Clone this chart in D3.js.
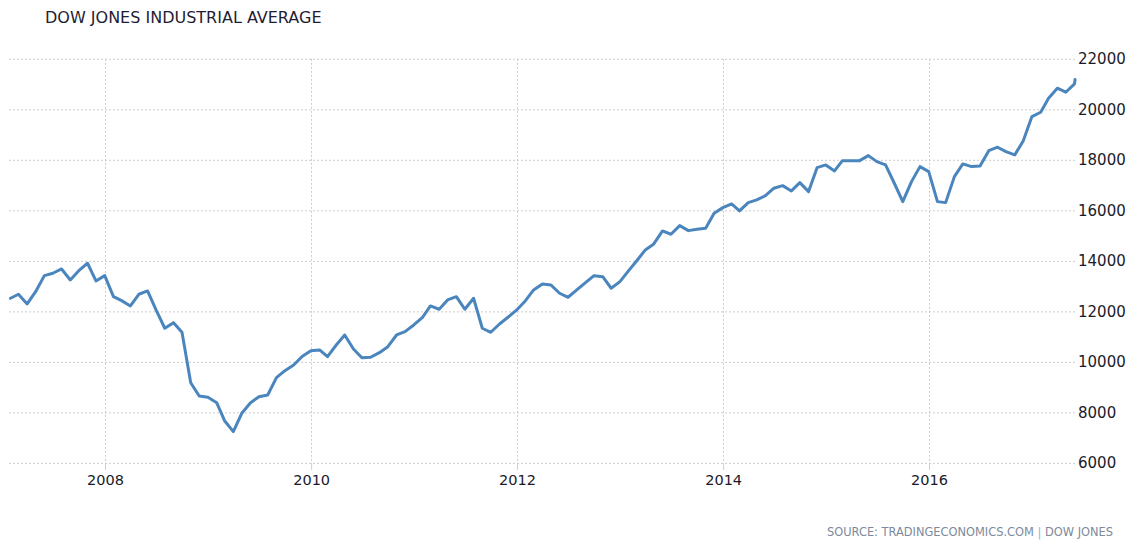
<!DOCTYPE html>
<html>
<head>
<meta charset="utf-8">
<script src="https://cdn.jsdelivr.net/npm/d3@7"></script>
<style>
    body { margin: 0; background: #fff; }
    svg { display: block; }
</style>
</head>
<body>
<div id="chart"></div>
<script>
// monthly closes, Jan 2007 .. May 2017, then one extra daily point in June 2017
const firstMonth = "2007-01"
const lastPointDate = "2017-06-02"
const closes = [
    12519, 12677, 12293, 12780, 13414, 13509, 13679, 13244, 13612, 13905, 13204, 13414,
    12582, 12424, 12214, 12677, 12808, 12055, 11331, 11552, 11172, 9176, 8650, 8598,
    8384, 7671, 7236, 7964, 8384, 8622, 8689, 9374, 9651, 9877, 10214, 10444,
    10471, 10206, 10669, 11065, 10511, 10166, 10182, 10364, 10602, 11065, 11196, 11461,
    11766, 12214, 12083, 12451, 12582, 12083, 12519, 11331, 11172, 11501, 11766, 12055,
    12424, 12848, 13085, 13046, 12717, 12558, 12848, 13137, 13414, 13374, 12915, 13176,
    13612, 13996, 14432, 14669, 15184, 15053, 15394, 15196, 15251, 15291, 15885, 16107,
    16253, 15976, 16305, 16412, 16582, 16875, 16978, 16768, 17097, 16741, 17691, 17798,
    17560, 17968, 17968, 17968, 18166, 17929, 17798, 17073, 16345, 17137, 17731, 17533,
    16345, 16305, 17335, 17838, 17731, 17758, 18364, 18499, 18325, 18194, 18749, 19711,
    19885, 20440, 20836, 20677, 21006
]
const lastPointValue = 21184
const yTicks = [6000, 8000, 10000, 12000, 14000, 16000, 18000, 20000, 22000]
const xTickYears = [2008, 2010, 2012, 2014, 2016]
const title = "DOW JONES INDUSTRIAL AVERAGE"
const source = "SOURCE: TRADINGECONOMICS.COM"
const sourceName = "DOW JONES"

const W = 1134, H = 543
const plot = {left: 8, right: 1075, top: 58.8, bottom: 462.9}

// build the points, each monthly value sits at the end of its month
let parseMonth = d3.timeParse("%Y-%m")
let start = parseMonth(firstMonth)
let data = closes.map((v, i) => {
    let d = d3.timeDay.offset(d3.timeMonth.offset(start, i + 1), -1)
    return {date: d, value: v}
})
data.push({date: d3.timeParse("%Y-%m-%d")(lastPointDate), value: lastPointValue})

let svg = d3.select("#chart")
    .append("svg")
    .attr("width", W)
    .attr("height", H)

svg.append("rect").attr("width", W).attr("height", H).attr("fill", "#fff")

// x scale pinned on the year gridlines
let x = d3.scaleTime()
    .domain([new Date(2008, 0, 1), new Date(2016, 0, 1)])
    .range([105, 929])

let y = d3.scaleLinear()
    .domain([6000, 22000])
    .range([plot.bottom, plot.top])

// horizontal grid + right labels
let yAxis = svg.append("g")
    .attr("transform", "translate(" + plot.right + ",0)")
    .call(d3.axisRight(y)
        .tickValues(yTicks)
        .tickSize(-(plot.right - plot.left))
        .tickPadding(3)
        .tickFormat(d3.format("d")))
yAxis.select(".domain").remove()
yAxis.selectAll("line")
    .attr("stroke", "#cccccc")
    .attr("stroke-dasharray", "2,2")
yAxis.selectAll("text")
    .attr("fill", "#1a1a2a")
    .style("font-family", "'DejaVu Sans', sans-serif")
    .style("font-size", "15px")

// vertical grid
svg.append("g")
    .selectAll("line")
    .data(xTickYears)
    .enter()
    .append("line")
    .attr("x1", d => Math.round(x(new Date(d, 0, 1))) + 0.5)
    .attr("x2", d => Math.round(x(new Date(d, 0, 1))) + 0.5)
    .attr("y1", plot.top)
    .attr("y2", plot.bottom)
    .attr("stroke", "#cccccc")
    .attr("stroke-dasharray", "2,2")

// x axis, only little ticks + labels
let xAxis = svg.append("g")
    .attr("transform", "translate(0," + plot.bottom + ")")
    .call(d3.axisBottom(x)
        .tickValues(xTickYears.map(d => new Date(d, 0, 1)))
        .tickSize(7)
        .tickPadding(5)
        .tickFormat(d3.timeFormat("%Y")))
xAxis.select(".domain").remove()
xAxis.selectAll("line").attr("stroke", "#cfcfcf")
xAxis.selectAll("text")
    .attr("fill", "#1a1a2a")
    .style("font-family", "'DejaVu Sans', sans-serif")
    .style("font-size", "14.5px")

// the line
svg.append("path")
    .datum(data)
    .attr("fill", "none")
    .attr("stroke", "#4a86bd")
    .attr("stroke-width", 3)
    .attr("stroke-linejoin", "round")
    .attr("stroke-linecap", "round")
    .attr("d", d3.line()
        .x(d => x(d.date))
        .y(d => y(d.value)))

// title
svg.append("text")
    .attr("x", 45)
    .attr("y", 23)
    .attr("fill", "#1f1d33")
    .style("font-family", "'DejaVu Sans', sans-serif")
    .style("font-size", "16px")
    .text(title)

// source line
let src = svg.append("text")
    .attr("x", 1113)
    .attr("y", 536)
    .attr("text-anchor", "end")
    .style("font-family", "'DejaVu Sans Condensed', 'DejaVu Sans', sans-serif")
    .style("font-size", "12.7px")
    .attr("fill", "#7d8a9b")
src.append("tspan").text(source + " ")
src.append("tspan").attr("fill", "#8fb3d6").text("|")
src.append("tspan").text(" " + sourceName)
</script>
</body>
</html>
